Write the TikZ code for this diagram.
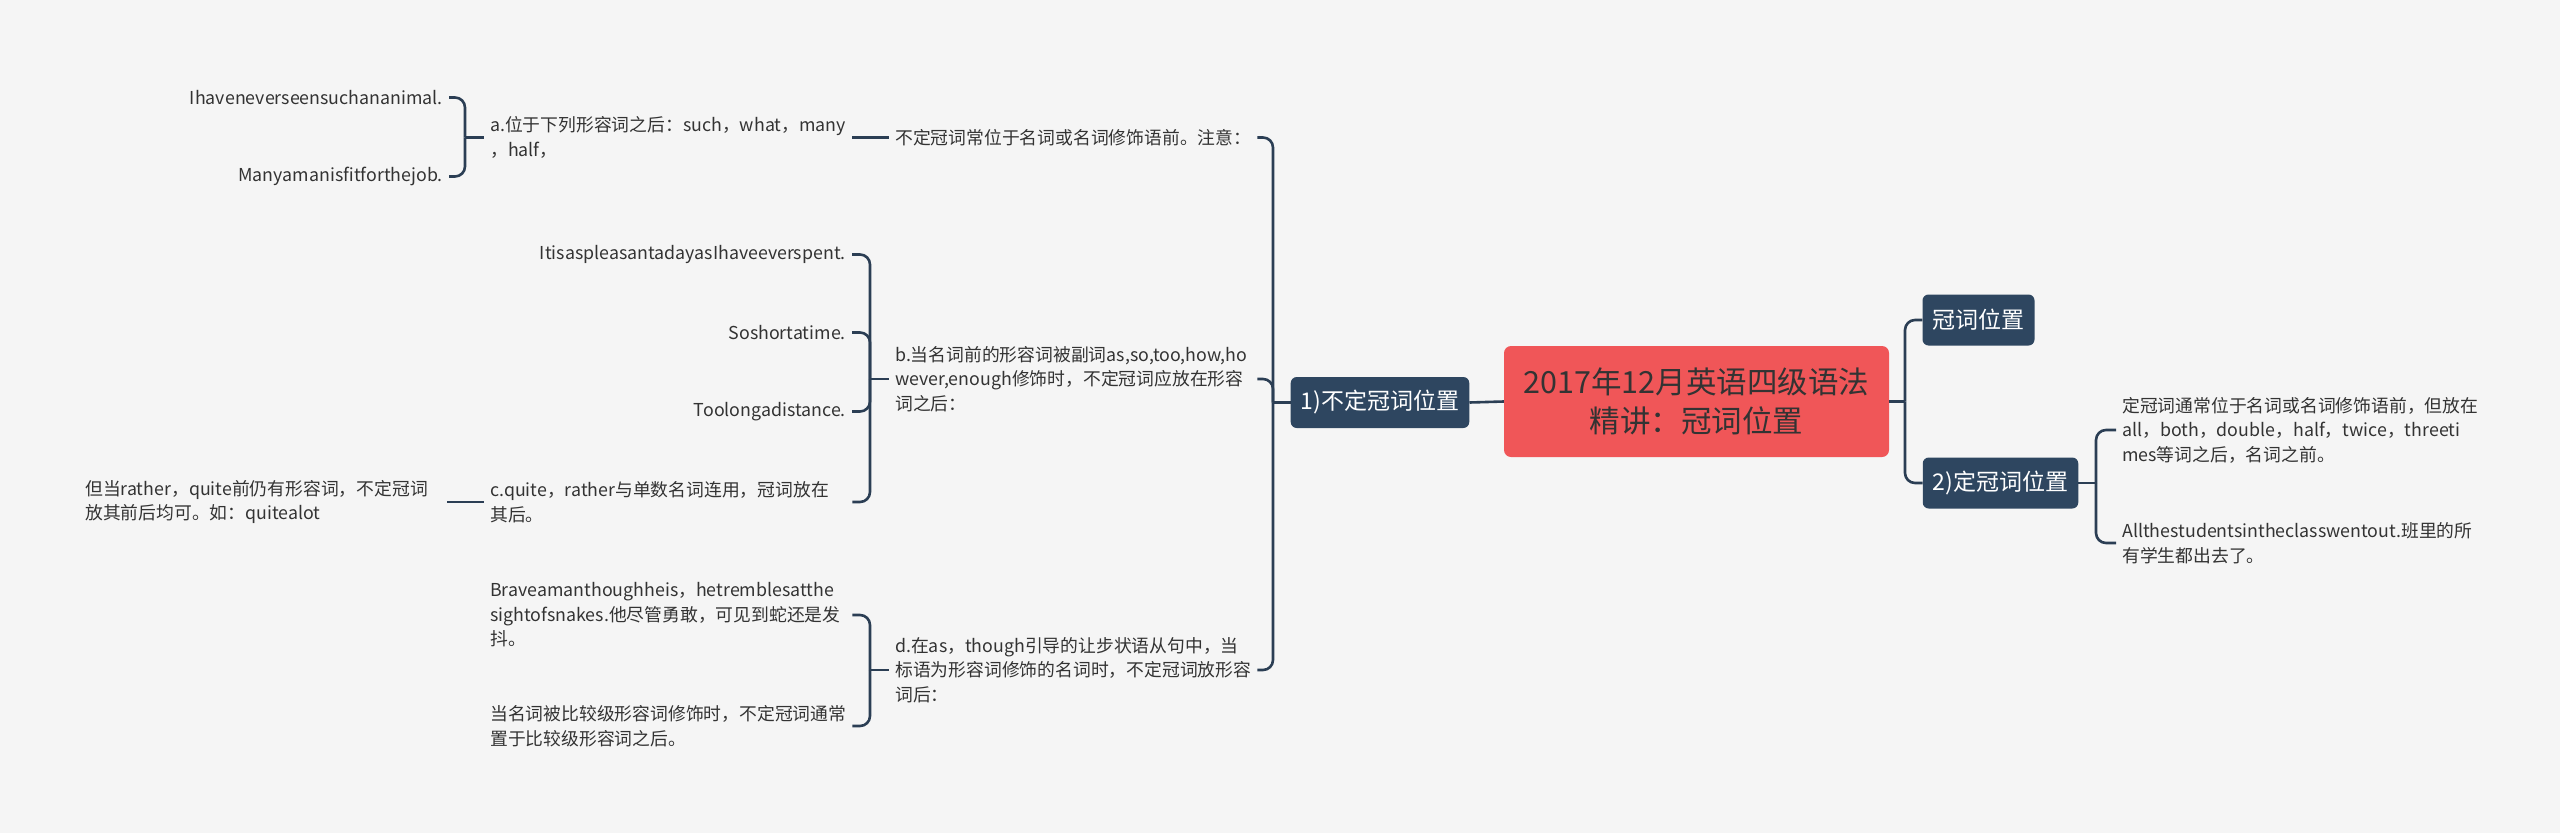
\documentclass[tikz,border=0pt]{standalone}
\usepackage{fontspec}
\setmainfont{Noto Sans CJK SC}
\definecolor{bg}{HTML}{F5F5F5}
\definecolor{rootred}{HTML}{F05658}
\definecolor{navy}{HTML}{2E4660}
\definecolor{linec}{HTML}{2B3E54}
\definecolor{txt}{HTML}{333333}
\begin{document}
\begin{tikzpicture}[x=1pt,y=-1pt,
 conn/.style={draw=linec, line width=2.6pt, rounded corners=10pt},
 leaf/.style={inner xsep=6pt, inner ysep=0pt, font=\fontsize{17.8}{24.5}\selectfont, text=txt, align=left},
 leafw/.style={leaf, text width=356pt},
 topic/.style={fill=navy, text=white, rounded corners=6pt, font=\fontsize{23}{28}\selectfont, minimum height=51pt, inner xsep=10pt},
 rootbox/.style={fill=rootred, text=txt, rounded corners=7pt, font=\fontsize{30.5}{39}\selectfont, minimum width=385pt, minimum height=111pt, align=center}]
\fill[bg] (0,0) rectangle (2560,833);
\useasboundingbox (0,0) rectangle (2560,833);

% central and main topics
\node[rootbox] (root) at (1696.5,401.5) {2017年12月英语四级语法\\精讲：冠词位置};
\node[topic, minimum width=178pt] (n1) at (1380,402.5) {1)不定冠词位置};
\node[topic, minimum width=111pt] (k) at (1978.5,320) {冠词位置};
\node[topic, minimum width=155pt] (n2) at (2000.5,483) {2)定冠词位置};

% left side
\node[leafw, anchor=west] (t0) at (889,137.5) {不定冠词常位于名词或名词修饰语前。注意：};
\node[leafw, anchor=west] (a) at (484,137.5) {a.位于下列形容词之后：such，what，many\\，half，};
\node[leaf, anchor=east] (a1) at (449,97.5) {Ihaveneverseensuchananimal.};
\node[leaf, anchor=east] (a2) at (449,176.5) {Manyamanisfitforthejob.};
\node[leafw, anchor=west] (b) at (889,379) {b.当名词前的形容词被副词as,so,too,how,ho\\wever,enough修饰时，不定冠词应放在形容\\词之后：};
\node[leaf, anchor=east] (b1) at (852,254.5) {ItisaspleasantadayasIhaveeverspent.};
\node[leaf, anchor=east] (b2) at (852,332.5) {Soshortatime.};
\node[leaf, anchor=east] (b3) at (852,411.5) {Toolongadistance.};
\node[leafw, anchor=west] (c) at (484,502) {c.quite，rather与单数名词连用，冠词放在\\其后。};
\node[leafw, anchor=west] (c1) at (79,502) {但当rather，quite前仍有形容词，不定冠词\\放其前后均可。如：quitealot};
\node[leafw, anchor=west] (d) at (889,670) {d.在as，though引导的让步状语从句中，当\\标语为形容词修饰的名词时，不定冠词放形容\\词后：};
\node[leafw, anchor=west] (d1) at (484,615) {Braveamanthoughheis，hetremblesatthe\\sightofsnakes.他尽管勇敢，可见到蛇还是发\\抖。};
\node[leafw, anchor=west] (d2) at (484,726) {当名词被比较级形容词修饰时，不定冠词通常\\置于比较级形容词之后。};

% right side
\node[leafw, anchor=west] (r1) at (2116,430) {定冠词通常位于名词或名词修饰语前，但放在\\all，both，double，half，twice，threeti\\mes等词之后，名词之前。};
\node[leafw, anchor=west] (r2) at (2116,543) {Allthestudentsintheclasswentout.班里的所\\有学生都出去了。};

% junction points
\coordinate (vm) at (1273,402.5);
\coordinate (va) at (465,137.5);
\coordinate (vb) at (870,379);
\coordinate (vd) at (870,670);
\coordinate (vr) at (1905,401.5);
\coordinate (v2) at (2096,483);

% connectors
\draw[conn] (root.west) -- (n1.east);
\draw[conn] (t0.east) -| (vm);
\draw[conn] (b.east) -| (vm);
\draw[conn] (d.east) -| (vm);
\draw[conn] (vm) -- (n1.west);

\draw[conn] (a.east) -- (t0.west);
\draw[conn] (a1.east) -| (va);
\draw[conn] (a2.east) -| (va);
\draw[conn] (va) -- (a.west);

\draw[conn] (b1.east) -| (vb);
\draw[conn] (b2.east) -| (vb);
\draw[conn] (b3.east) -| (vb);
\draw[conn] (c.east) -| (vb);
\draw[conn] (vb) -- (b.west);
\draw[conn] (c1.east) -- (c.west);

\draw[conn] (d1.east) -| (vd);
\draw[conn] (d2.east) -| (vd);
\draw[conn] (vd) -- (d.west);

\draw[conn] (root.east) -- (vr);
\draw[conn] (vr) |- (k.west);
\draw[conn] (vr) |- (n2.west);

\draw[conn] (n2.east) -- (v2);
\draw[conn] (v2) |- (r1.west);
\draw[conn] (v2) |- (r2.west);
\end{tikzpicture}
\end{document}
